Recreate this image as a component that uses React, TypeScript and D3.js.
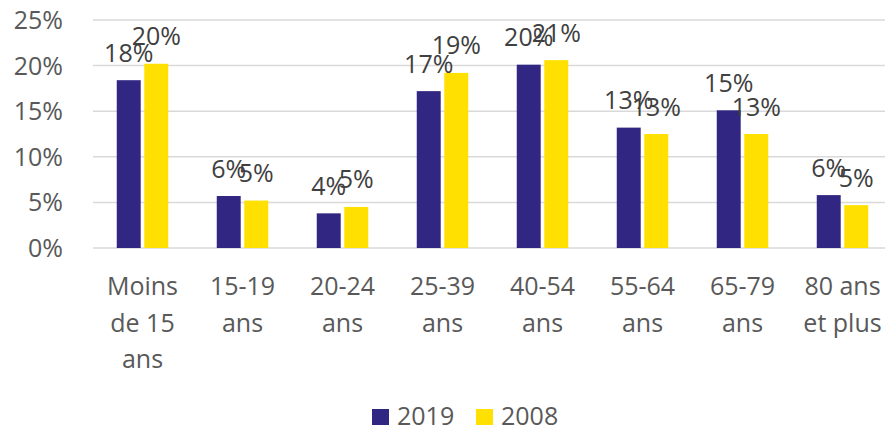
import React from "react";
import * as d3 from "d3";

const categories: string[][] = [
  ["Moins", "de 15", "ans"],
  ["15-19", "ans"],
  ["20-24", "ans"],
  ["25-39", "ans"],
  ["40-54", "ans"],
  ["55-64", "ans"],
  ["65-79", "ans"],
  ["80 ans", "et plus"],
];
const seriesNames = ["2019", "2008"];
const values2019 = [0.184, 0.057, 0.038, 0.172, 0.201, 0.132, 0.151, 0.058];
const values2008 = [0.202, 0.052, 0.045, 0.192, 0.206, 0.125, 0.125, 0.047];
const yTicks = [0, 0.05, 0.1, 0.15, 0.2, 0.25];
const colors = ["#312783", "#FFE000"];

const W = 885;
const H = 426;
const FONT = "'Open Sans', sans-serif";

export default function App() {
  const keys = categories.map((c) => c.join(" "));
  const series = [values2019, values2008];
  const x0 = d3.scaleBand<string>().domain(keys).range([92.5, 892.5]).padding(0);
  const bw = x0.bandwidth();
  const groupW = 51.5;
  const x1 = d3
    .scaleBand<string>()
    .domain(seriesNames)
    .range([(bw - groupW) / 2, (bw + groupW) / 2])
    .paddingInner(0.13);
  const y = d3.scaleLinear().domain([0, 0.25]).range([248, 20]);
  const fmt = d3.format(".0%");

  return (
    <svg
      width={W}
      height={H}
      style={{ position: "absolute", left: 0, top: 0, display: "block", background: "#fff" }}
      fontFamily={FONT}
    >
      {yTicks.map((t) => (
        <g key={t}>
          <line x1={93} x2={W} y1={y(t)} y2={y(t)} stroke="#d9d9d9" strokeWidth={1.5} />
          <text x={63} y={y(t) + 9} textAnchor="end" fontSize={25} fill="#595959">
            {fmt(t)}
          </text>
        </g>
      ))}
      {seriesNames.map((s, si) => (
        <g key={s}>
          {series[si].map((v, i) => (
            <rect
              key={i}
              x={(x0(keys[i]) as number) + (x1(s) as number)}
              y={y(v)}
              width={x1.bandwidth()}
              height={y(0) - y(v)}
              fill={colors[si]}
            />
          ))}
        </g>
      ))}
      {seriesNames.map((s, si) => (
        <g key={s + "l"}>
          {series[si].map((v, i) => (
            <text
              key={i}
              x={(x0(keys[i]) as number) + (x1(s) as number) + x1.bandwidth() / 2}
              y={y(v) - 18.5}
              textAnchor="middle"
              fontSize={25}
              fill="#404040"
            >
              {fmt(v)}
            </text>
          ))}
        </g>
      ))}
      {categories.map((lines, i) => (
        <text
          key={i}
          x={(x0(keys[i]) as number) + bw / 2}
          textAnchor="middle"
          fontSize={25}
          fill="#595959"
        >
          {lines.map((l, j) => (
            <tspan key={j} x={(x0(keys[i]) as number) + bw / 2} y={295 + j * 36.5}>
              {l}
            </tspan>
          ))}
        </text>
      ))}
      {seriesNames.map((s, si) => {
        const lx = si === 0 ? 372 : 476;
        return (
          <g key={s + "leg"}>
            <rect x={lx} y={409} width={17} height={16} fill={colors[si]} />
            <text x={lx + 25} y={425} fontSize={25} fill="#595959">
              {s}
            </text>
          </g>
        );
      })}
    </svg>
  );
}
